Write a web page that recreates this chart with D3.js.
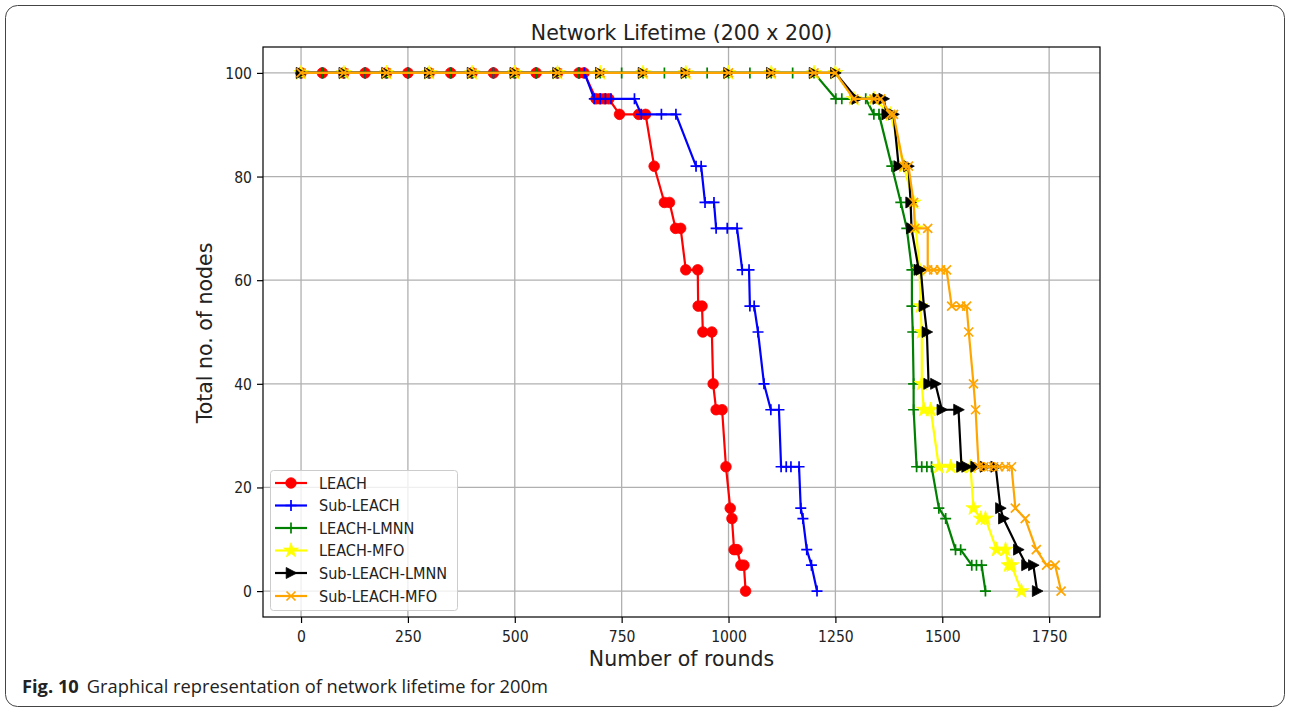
<!DOCTYPE html>
<html><head><meta charset="utf-8">
<script src="https://cdn.jsdelivr.net/npm/d3@7"></script>
<style>body{margin:0;background:#fff;} svg{display:block;}</style>
</head><body>
<svg id="c" width="1290" height="708"></svg>
<script>
// ---------- data ----------
const titleText = "Network Lifetime (200 x 200)";
const xLabel = "Number of rounds";
const yLabel = "Total no. of nodes";
const xTicks = [0, 250, 500, 750, 1000, 1250, 1500, 1750];
const yTicks = [0, 20, 40, 60, 80, 100];
const seriesNames = ["LEACH", "Sub-LEACH", "LEACH-LMNN", "LEACH-MFO", "Sub-LEACH-LMNN", "Sub-LEACH-MFO"];

const leachRounds = [0,50,100,150,200,250,300,350,400,450,500,550,600,650,662,690,700,710,720,745,790,806,826,850,862,876,888,900,928,929,938,940,961,964,971,985,994,1004,1008,1013,1020,1029,1036,1040];
const leachNodes  = [100,100,100,100,100,100,100,100,100,100,100,100,100,100,100,95,95,95,95,92,92,92,82,75,75,70,70,62,62,55,55,50,50,40,35,35,24,16,14,8,8,5,5,0];

const subLeachRounds = [0,50,100,150,200,250,300,350,400,450,500,550,600,650,663,686,700,712,725,780,796,843,877,924,936,945,966,971,997,1020,1032,1048,1050,1060,1069,1083,1099,1118,1123,1135,1146,1165,1169,1174,1183,1194,1207];
const subLeachNodes  = [100,100,100,100,100,100,100,100,100,100,100,100,100,100,100,95,95,95,95,95,92,92,92,82,82,75,75,70,70,70,62,62,55,55,50,40,35,35,24,24,24,24,16,14,8,5,0];

const leachLmnnRounds = [0,50,100,150,200,250,300,350,400,450,500,550,600,650,700,750,800,850,900,950,1000,1050,1100,1150,1200,1251,1265,1289,1321,1340,1352,1382,1403,1417,1429,1429,1431,1433,1433,1440,1452,1464,1475,1492,1508,1531,1543,1569,1580,1592,1601];
const leachLmnnNodes  = [100,100,100,100,100,100,100,100,100,100,100,100,100,100,100,100,100,100,100,100,100,100,100,100,100,95,95,95,95,92,92,82,75,70,62,55,50,40,35,24,24,24,24,16,14,8,8,5,5,5,0];

const leachMfoRounds = [0,100,200,300,400,500,600,700,800,900,1000,1100,1200,1250,1293,1340,1379,1410,1433,1438,1447,1449,1452,1452,1457,1473,1492,1520,1545,1566,1573,1590,1601,1627,1648,1655,1662,1685];
const leachMfoNodes  = [100,100,100,100,100,100,100,100,100,100,100,100,100,100,95,95,92,82,75,70,62,55,50,40,35,35,24,24,24,24,16,14,14,8,8,5,5,0];

const subLmnnRounds = [0,100,200,300,400,500,600,700,800,900,1000,1100,1200,1250,1300,1349,1363,1370,1386,1398,1421,1426,1428,1445,1450,1457,1464,1468,1484,1499,1538,1545,1557,1578,1600,1625,1636,1643,1678,1697,1713,1722];
const subLmnnNodes  = [100,100,100,100,100,100,100,100,100,100,100,100,100,100,95,95,95,92,92,82,82,75,70,62,62,55,50,40,40,35,35,24,24,24,24,24,16,14,8,5,5,0];

const subMfoRounds = [0,100,200,300,400,500,600,700,800,900,1000,1100,1200,1250,1293,1340,1356,1379,1386,1410,1421,1433,1436,1466,1466,1480,1496,1510,1522,1543,1557,1562,1573,1578,1585,1597,1608,1620,1632,1648,1662,1671,1694,1720,1744,1764,1778];
const subMfoNodes  = [100,100,100,100,100,100,100,100,100,100,100,100,100,100,95,95,95,92,92,82,82,75,70,70,62,62,62,62,55,55,55,50,40,35,24,24,24,24,24,24,24,16,14,8,5,5,0];

const seriesColors = ["#ff0000", "#0000ff", "#008000", "#ffff00", "#000000", "#ffa500"];
const seriesMarkers = ["circle", "plus", "plus", "star", "triright", "x"];

const captionBold = "Fig. 10";
const captionText = "Graphical representation of network lifetime for 200m";

// ---------- layout ----------
const W = 1290, H = 708;
const plot = {left: 263, right: 1100, top: 47, bottom: 617};
const svg = d3.select("#c");

const x = d3.scaleLinear().domain([-89, 1869]).range([plot.left, plot.right]);
const y = d3.scaleLinear().domain([-5, 105]).range([plot.bottom, plot.top]);

const FONT = "DejaVu Sans, sans-serif";

// outer frame
svg.append("rect").attr("x", 5.5).attr("y", 5.5).attr("width", 1279).attr("height", 701)
  .attr("rx", 12).attr("fill", "none").attr("stroke", "#444").attr("stroke-width", 1);

// grid
const g = svg.append("g");
g.selectAll(".gx").data(xTicks).enter().append("line")
  .attr("x1", d => x(d)).attr("x2", d => x(d)).attr("y1", plot.top).attr("y2", plot.bottom)
  .attr("stroke", "#b0b0b0").attr("stroke-width", 1.3);
g.selectAll(".gy").data(yTicks).enter().append("line")
  .attr("y1", d => y(d)).attr("y2", d => y(d)).attr("x1", plot.left).attr("x2", plot.right)
  .attr("stroke", "#b0b0b0").attr("stroke-width", 1.3);

// axes via d3.axis
const xAxis = d3.axisBottom(x).tickValues(xTicks).tickSize(6).tickPadding(6).tickFormat(d3.format("d"));
const yAxis = d3.axisLeft(y).tickValues(yTicks).tickSize(6).tickPadding(5).tickFormat(d3.format("d"));
const gx = svg.append("g").attr("transform", `translate(0,${plot.bottom})`).call(xAxis);
const gy = svg.append("g").attr("transform", `translate(${plot.left},0)`).call(yAxis);
[gx, gy].forEach(a => {
  a.select(".domain").remove();
  a.selectAll(".tick line").attr("stroke", "#000").attr("stroke-width", 1.2);
  a.selectAll(".tick text").attr("font-family", FONT).attr("font-size", 14).attr("fill", "#222");
});
gx.selectAll(".tick text").attr("y", 0).attr("dy", 0)
  .attr("transform", "translate(0,25) scale(1,1.12)");
gy.selectAll(".tick text").attr("x", 0).attr("dy", 0)
  .attr("transform", "translate(-11,5.5) scale(1,1.12)");

// series
const clip = svg.append("clipPath").attr("id", "pc").append("rect")
  .attr("x", plot.left).attr("y", plot.top).attr("width", plot.right - plot.left).attr("height", plot.bottom - plot.top);

function markerPath(type) {
  if (type === "circle") return d3.symbol(d3.symbolCircle, 88)();
  if (type === "plus") return "M-5.5,0H5.5M0,-5.5V5.5";
  if (type === "x") return "M-4.5,-4.5L4.5,4.5M-4.5,4.5L4.5,-4.5";
  if (type === "star") return d3.symbol(d3.symbolStar, 68)();
  if (type === "triright") return "M-4.8,-5.5L5.8,0L-4.8,5.5Z";
}
function drawMarker(sel, type, color) {
  const p = sel.append("path").attr("d", markerPath(type));
  if (type === "plus" || type === "x") p.attr("fill", "none").attr("stroke", color).attr("stroke-width", 1.7);
  else p.attr("fill", color).attr("stroke", color).attr("stroke-width", 0.8);
  return p;
}

const seriesData = [
  [leachRounds, leachNodes],
  [subLeachRounds, subLeachNodes],
  [leachLmnnRounds, leachLmnnNodes],
  [leachMfoRounds, leachMfoNodes],
  [subLmnnRounds, subLmnnNodes],
  [subMfoRounds, subMfoNodes]
];

const line = d3.line().x(d => x(d[0])).y(d => y(d[1]));
const plotG = svg.append("g").attr("clip-path", "url(#pc)");
seriesData.forEach((s, i) => {
  const pts = s[0].map((r, k) => [r, s[1][k]]);
  const sg = plotG.append("g");
  sg.append("path").attr("d", line(pts)).attr("fill", "none")
    .attr("stroke", seriesColors[i]).attr("stroke-width", 2.2).attr("stroke-linejoin", "round");
  pts.forEach(p => {
    const mg = sg.append("g").attr("transform", `translate(${x(p[0])},${y(p[1])})`);
    drawMarker(mg, seriesMarkers[i], seriesColors[i]);
  });
});

// spines
svg.append("rect").attr("x", plot.left).attr("y", plot.top)
  .attr("width", plot.right - plot.left).attr("height", plot.bottom - plot.top)
  .attr("fill", "none").attr("stroke", "#000").attr("stroke-width", 1.2);

// title and labels
svg.append("text").attr("x", (plot.left + plot.right) / 2).attr("y", 40)
  .attr("text-anchor", "middle").attr("font-family", FONT).attr("font-size", 20.5).attr("fill", "#222")
  .text(titleText);
svg.append("text").attr("x", (plot.left + plot.right) / 2).attr("y", 666)
  .attr("text-anchor", "middle").attr("font-family", FONT).attr("font-size", 20.5).attr("fill", "#222")
  .text(xLabel);
svg.append("text").attr("transform", `translate(212,333) rotate(-90)`)
  .attr("text-anchor", "middle").attr("font-family", FONT).attr("font-size", 20.5).attr("fill", "#222")
  .text(yLabel);

// legend
const lg = svg.append("g");
lg.append("rect").attr("x", 270.5).attr("y", 470.5).attr("width", 187).attr("height", 140).attr("rx", 3)
  .attr("fill", "#fff").attr("fill-opacity", 0.8).attr("stroke", "#cccccc").attr("stroke-width", 1);
const rowY = [483, 505.5, 528, 550.5, 573, 596];
seriesNames.forEach((n, i) => {
  const yy = rowY[i];
  lg.append("line").attr("x1", 275).attr("x2", 307).attr("y1", yy).attr("y2", yy)
    .attr("stroke", seriesColors[i]).attr("stroke-width", 2.2);
  const mg = lg.append("g").attr("transform", `translate(291,${yy})`);
  drawMarker(mg, seriesMarkers[i], seriesColors[i]);
  lg.append("text").attr("transform", `translate(319,${yy + 5.5}) scale(1,1.12)`)
    .attr("font-family", FONT).attr("font-size", 14.5).attr("fill", "#222").text(n);
});

// caption
const cap = svg.append("text").attr("x", 22).attr("y", 693)
  .attr("font-family", "Open Sans, Noto Sans, sans-serif").attr("font-size", 18.3).attr("fill", "#222");
cap.append("tspan").attr("font-weight", "bold").text(captionBold);
cap.append("tspan").attr("dx", 8).text(captionText);
</script>
</body></html>
